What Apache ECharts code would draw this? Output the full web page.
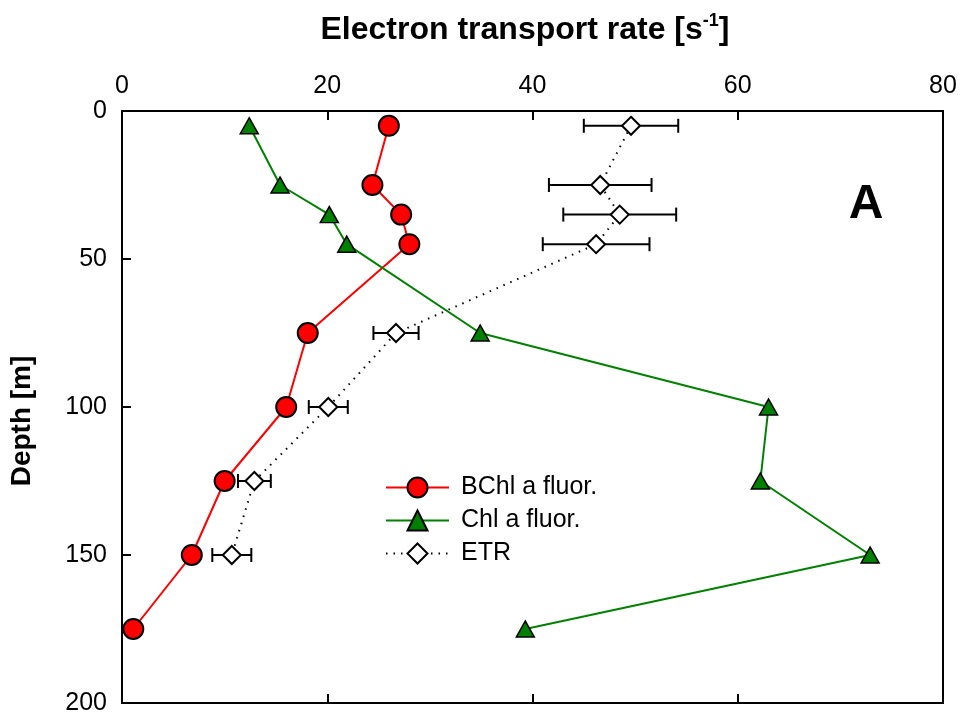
<!DOCTYPE html>
<html>
<head>
<meta charset="utf-8">
<script src="https://cdn.jsdelivr.net/npm/echarts@6/dist/echarts.min.js"></script>
<style>html,body{margin:0;padding:0;background:#fff}#c{width:960px;height:718px}</style>
</head>
<body>
<div id="c"></div>
<script>
const depths = [5, 25, 35, 45, 75, 100, 125, 150, 175];
const bchl = [26.0, 24.4, 27.2, 28.0, 18.1, 16.0, 10.0, 6.8, 1.1];
const chl = [12.4, 15.4, 20.2, 21.9, 34.9, 63.0, 62.2, 72.9, 39.3];
const etrDepths = [5, 25, 35, 45, 75, 100, 125, 150];
const etr = [49.6, 46.6, 48.5, 46.2, 26.7, 20.1, 12.9, 10.7];
const etrErr = [4.6, 5.0, 5.5, 5.2, 2.2, 1.9, 1.6, 1.9];
const xTicks = [0, 20, 40, 60, 80];
const yTicks = [0, 50, 100, 150, 200];

const FONT = 'Liberation Sans, Arial, sans-serif';
const chart = echarts.init(document.getElementById('c'), null, {renderer: 'canvas'});

const pair = (xs, ys) => xs.map((v, i) => [v, ys[i]]);
const errData = etrDepths.map((d, i) => [etr[i] - etrErr[i], etr[i] + etrErr[i], d]);

const lineBlack = {show: true, onZero: false, lineStyle: {color: '#000', width: 2}};
const tickIn = {show: true, inside: true, length: 9, lineStyle: {color: '#000', width: 2}};

chart.setOption({
  animation: false,
  backgroundColor: '#fff',
  grid: {left: 122, top: 111, right: 17, bottom: 15, containLabel: false},
  xAxis: [{
    type: 'value', position: 'top', min: xTicks[0], max: xTicks[xTicks.length - 1], interval: 20,
    axisLine: lineBlack, axisTick: tickIn,
    axisLabel: {show: true, color: '#000', fontSize: 25, fontFamily: FONT, margin: 12},
    splitLine: {show: false}
  }, {
    type: 'value', position: 'bottom', min: xTicks[0], max: xTicks[xTicks.length - 1], interval: 20,
    axisLine: lineBlack, axisTick: tickIn,
    axisLabel: {show: false}, splitLine: {show: false}
  }],
  yAxis: [{
    type: 'value', inverse: true, min: yTicks[0], max: yTicks[yTicks.length - 1], interval: 50, position: 'left',
    axisLine: lineBlack, axisTick: tickIn,
    axisLabel: {show: true, color: '#000', fontSize: 25, fontFamily: FONT, margin: 15},
    splitLine: {show: false}
  }, {
    type: 'value', inverse: true, min: yTicks[0], max: yTicks[yTicks.length - 1], interval: 50, position: 'right',
    axisLine: lineBlack, axisTick: {show: false}, axisLabel: {show: false}, splitLine: {show: false}
  }],
  legend: {
    left: 380, top: 470, orient: 'vertical',
    itemWidth: 63, itemHeight: 25, itemGap: 8,
    textStyle: {color: '#000', fontSize: 25, fontFamily: FONT, padding: [0, 0, 0, 7]},
    data: ['BChl a fluor.', 'Chl a fluor.', 'ETR']
  },
  series: [{
    name: 'ETR', type: 'line', data: pair(etr, etrDepths),
    lineStyle: {color: '#000', width: 2, type: [1.5, 6]},
    symbol: 'diamond', symbolSize: [18, 18],
    itemStyle: {color: '#fff', borderColor: '#000', borderWidth: 2},
    z: 3
  }, {
    name: 'ETRerr', type: 'custom', data: errData,
    renderItem: function (params, api) {
      const p1 = api.coord([api.value(0), api.value(2)]);
      const p2 = api.coord([api.value(1), api.value(2)]);
      const h = 7;
      const st = {stroke: '#000', lineWidth: 2};
      return {type: 'group', children: [
        {type: 'line', shape: {x1: p1[0], y1: p1[1], x2: p2[0], y2: p2[1]}, style: st},
        {type: 'line', shape: {x1: p1[0], y1: p1[1] - h, x2: p1[0], y2: p1[1] + h}, style: st},
        {type: 'line', shape: {x1: p2[0], y1: p2[1] - h, x2: p2[0], y2: p2[1] + h}, style: st}
      ]};
    },
    z: 2
  }, {
    name: 'BChl a fluor.', type: 'line', data: pair(bchl, depths),
    lineStyle: {color: '#ff0000', width: 2},
    symbol: 'circle', symbolSize: 20,
    itemStyle: {color: '#ff0000', borderColor: '#000', borderWidth: 2},
    z: 4
  }, {
    name: 'Chl a fluor.', type: 'line', data: pair(chl, depths),
    lineStyle: {color: '#008000', width: 2},
    symbol: 'triangle', symbolSize: [18, 16],
    itemStyle: {color: '#008000', borderColor: '#000', borderWidth: 1.5},
    z: 4
  }],
  graphic: [{
    type: 'text', x: 525, y: 30,
    style: {
      text: '{m|Electron transport rate [s}{s|-1}{m|]}',
      align: 'center', verticalAlign: 'middle',
      rich: {
        m: {fontSize: 32, fontWeight: 'bold', fontFamily: FONT, fill: '#000'},
        s: {fontSize: 18, fontWeight: 'bold', fontFamily: FONT, fill: '#000', padding: [0, 0, 18, 0]}
      }
    }
  }, {
    type: 'text', x: 22, y: 421, rotation: Math.PI / 2,
    style: {text: 'Depth [m]', fontSize: 28, fontWeight: 'bold', fontFamily: FONT, fill: '#000', align: 'center', verticalAlign: 'middle'}
  }, {
    type: 'text', x: 866, y: 205,
    style: {text: 'A', fontSize: 48, fontWeight: 'bold', fontFamily: FONT, fill: '#000', align: 'center', verticalAlign: 'middle'}
  }]
});
</script>
</body>
</html>
